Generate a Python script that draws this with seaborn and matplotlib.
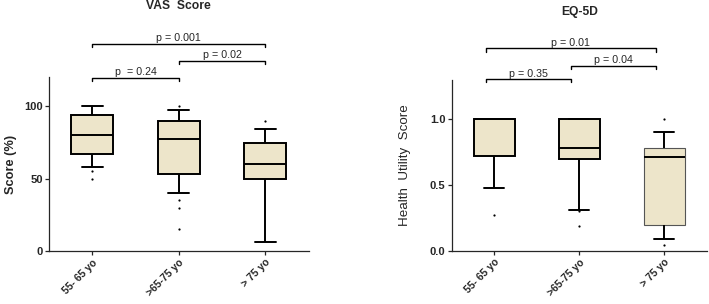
import matplotlib
matplotlib.use("Agg")
import matplotlib.pyplot as plt
import seaborn as sns
import pandas as pd

sns.set_theme(style="ticks")
plt.rcParams['font.family'] = ['Liberation Sans', 'DejaVu Sans']

groups = ["55- 65 yo", ">65-75 yo", "> 75 yo"]

# five-number summaries: whisker low, Q1, median, Q3, whisker high
vas_low = [58, 40, 6]
vas_q1 = [67, 53, 50]
vas_med = [80, 77.5, 60]
vas_q3 = [93.5, 89.5, 74.5]
vas_high = [100, 97, 84]
vas_out_grp = [0, 0, 1, 1, 1, 1, 2]
vas_out_val = [55.5, 50, 100, 35, 30, 15, 90]

eq_low = [0.48, 0.31, 0.09]
eq_q1 = [0.72, 0.70, 0.195]
eq_med = [1.0, 0.78, 0.71]
eq_q3 = [1.0, 1.0, 0.78]
eq_high = [1.0, 1.0, 0.905]
eq_out_grp = [0, 1, 1, 2, 2]
eq_out_val = [0.27, 0.30, 0.19, 1.0, 0.04]

pairs = [(0, 1), (1, 2), (0, 2)]
vas_p = ["p  = 0.24", "p = 0.02", "p = 0.001"]
vas_bar_y = [119.5, 131, 143]
eq_p = ["p = 0.35", "p = 0.04", "p = 0.01"]
eq_bar_y = [1.305, 1.41, 1.54]

fill = "#EDE5CA"


def summary_frame(low, q1, med, q3, high):
    rows = []
    for g, vals in zip(groups, zip(low, q1, med, q3, high)):
        for v in vals:
            rows.append((g, v))
    return pd.DataFrame(rows, columns=["group", "value"])


def outlier_frame(grp, val):
    return pd.DataFrame({"group": [groups[i] for i in grp], "value": val})


def draw_panel(ax, df, out, ylim, yticks, ylabels, title, title_y, ylabel,
               bold_label, pvals, bar_y, drop, off, label_x):
    sns.boxplot(data=df, x="group", y="value", order=groups, whis=(0, 100),
                width=0.48, color=fill, saturation=1, linecolor="black",
                linewidth=1.4, ax=ax)
    sns.stripplot(data=out, x="group", y="value", order=groups, jitter=False,
                  size=1.6, color="black", ax=ax)
    ax.set_xlim(-0.5, 2.5)
    ax.set_ylim(*ylim)
    ax.set_yticks(yticks)
    ax.set_yticklabels(ylabels)
    ax.set_xticks(range(len(groups)))
    ax.set_xticklabels(groups)
    ax.set_xlabel("")
    if bold_label:
        ax.set_ylabel(ylabel, fontsize=9.2, fontweight="bold")
    else:
        ax.set_ylabel(ylabel, fontsize=9.6)
    ax.yaxis.set_label_coords(label_x, 0.5)
    sns.despine(ax=ax)
    for s in ax.spines.values():
        s.set_linewidth(0.9)
    ax.tick_params(direction="out", length=3, width=0.9, labelsize=8, pad=1.5)
    for lbl in ax.get_xticklabels():
        lbl.set_rotation(45)
        lbl.set_ha("right")
        lbl.set_rotation_mode("anchor")
        lbl.set_fontweight("bold")
        lbl.set_fontsize(7.5)
    for lbl in ax.get_yticklabels():
        lbl.set_fontweight("bold")
    for (a, b), y, txt in zip(pairs, bar_y, pvals):
        xa, xb = a + off, b + off
        ax.plot([xa, xa, xb, xb], [y - drop, y, y, y - drop], color="black",
                lw=1.0, clip_on=False)
        ax.annotate(txt, xy=((xa + xb) / 2, y), xytext=(0, 0.6),
                    textcoords="offset points", ha="center", va="bottom",
                    fontsize=7.7, annotation_clip=False)
    ax.text(0.5, title_y, title, transform=ax.transAxes, ha="center",
            va="center", fontsize=8.7, fontweight="bold")


fig = plt.figure(figsize=(7.09, 3.04), dpi=100)
ax1 = fig.add_axes([49 / 709, 53 / 304, 259.5 / 709, 174 / 304])
ax2 = fig.add_axes([451.7 / 709, 53.3 / 304, 255 / 709, 170.7 / 304])

draw_panel(ax1, summary_frame(vas_low, vas_q1, vas_med, vas_q3, vas_high),
           outlier_frame(vas_out_grp, vas_out_val), (0, 120), [0, 50, 100],
           ["0", "50", "100"], "VAS  Score", 1.408, "Score (%)", True,
           vas_p, vas_bar_y, 2.0, 0.0, -0.125)
draw_panel(ax2, summary_frame(eq_low, eq_q1, eq_med, eq_q3, eq_high),
           outlier_frame(eq_out_grp, eq_out_val), (0, 1.3), [0, 0.5, 1.0],
           ["0.0", "0.5", "1.0"], "EQ-5D", 1.40, "Health  Utility  Score", False,
           eq_p, eq_bar_y, 0.023, -0.1, -0.158)

# the last EQ-5D box is drawn with a thinner grey outline
ax2.patches[2].set_linewidth(0.8)
ax2.patches[2].set_edgecolor("#555555")

fig.savefig("out.png", dpi=100)
